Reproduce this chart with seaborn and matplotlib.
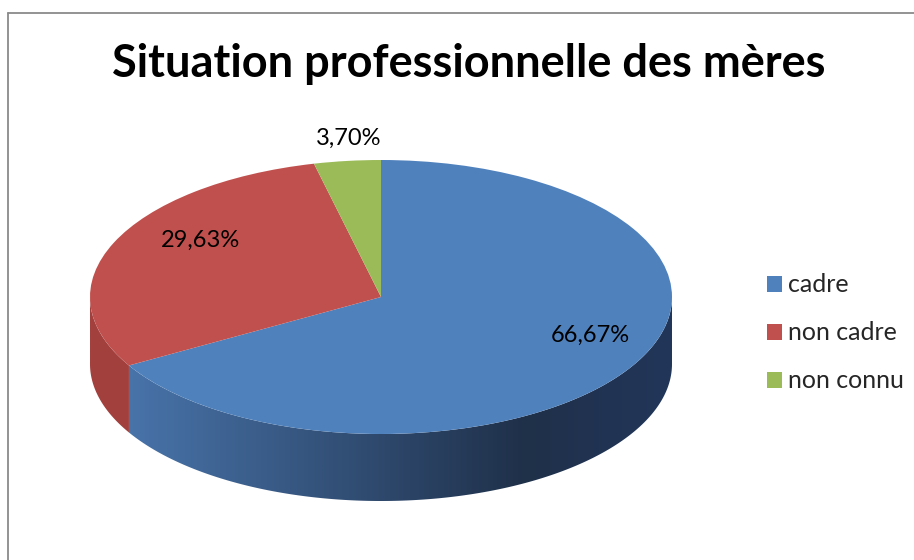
import numpy as np
import matplotlib
matplotlib.use("Agg")
import matplotlib.pyplot as plt
import seaborn as sns
from matplotlib.transforms import Affine2D
from matplotlib.patches import Polygon
from matplotlib.colors import LinearSegmentedColormap

# ---- data ----
categories = ["cadre", "non cadre", "non connu"]
values = [66.67, 29.63, 3.70]
title = "Situation professionnelle des mères"

colors = ["#4F81BD", "#C0504D", "#9BBB59"]
side_cmaps = [
    LinearSegmentedColormap.from_list("b", [(0, "#4c7ab3"), (0.75, "#1f3049"), (1, "#22365a")]),
    LinearSegmentedColormap.from_list("r", [(0, "#a3413e"), (1, "#8a3634")]),
    LinearSegmentedColormap.from_list("g", [(0, "#819f48"), (1, "#6b853c")]),
]

sns.set_theme(style="white")
plt.rcParams["font.family"] = ["Lato", "DejaVu Sans"]

W, H = 914, 560
fig = plt.figure(figsize=(W / 100, H / 100), dpi=100)
ax = fig.add_axes([0, 0, 1, 1])

# geometry (pixel space, y up)
cx, cy = 381, 263
rx, ry = 291, 137
depth = 67

wedges, _ = ax.pie(values, colors=colors, startangle=90, counterclock=False,
                   wedgeprops=dict(linewidth=0), radius=1, center=(0, 0))
tr = Affine2D().scale(rx, ry).translate(cx, cy) + ax.transData
for w in wedges:
    w.set_transform(tr)
    w.set_zorder(3)

ax.set_aspect("auto")
ax.axis("off")

# side walls from wedge angles, filled with a horizontal gradient
grad = np.linspace(0, 1, 512).reshape(1, -1)
for i, w in enumerate(wedges):
    a1, a2 = w.theta1, w.theta2
    for shift in (-360, 0, 360):
        lo = max(a1 + shift, 180)
        hi = min(a2 + shift, 360)
        if hi > lo:
            th = np.radians(np.linspace(lo, hi, 400))
            xs = cx + rx * np.cos(th)
            ys = cy + ry * np.sin(th)
            pts = np.concatenate([np.column_stack([xs, ys]),
                                  np.column_stack([xs[::-1], ys[::-1] - depth])])
            poly = Polygon(pts, closed=True, facecolor="none", edgecolor="none")
            ax.add_patch(poly)
            im = ax.imshow(grad, cmap=side_cmaps[i], aspect="auto",
                           extent=(cx - rx, cx + rx, cy - ry - depth, cy),
                           origin="lower", zorder=2, interpolation="bilinear")
            im.set_clip_path(poly)

ax.set_xlim(0, W)
ax.set_ylim(0, H)

# value labels
label_pos = [(590, 335), (200, 240), (349, 138)]
for v, (px, py) in zip(values, label_pos):
    ax.text(px, H - py, f"{v:.2f}%".replace(".", ","), ha="center", va="center",
            fontsize=17, color="black", zorder=5)

# title
fig.text(469 / W, (H - 77) / H, title, ha="center", va="baseline",
         fontsize=32.5, fontweight="bold", color="black")

# legend
leg = ax.legend(wedges, categories, loc="center left",
                bbox_to_anchor=(767 / W, (H - 333) / H), bbox_transform=fig.transFigure,
                frameon=False, fontsize=18, handlelength=0.6, handleheight=0.6,
                handletextpad=0.25, labelspacing=1.0, borderpad=0, borderaxespad=0)

# border
ax.plot([8, 8], [0, H - 13], color="#8a8a8a", lw=1.3, zorder=6, clip_on=False)
ax.plot([8, W], [H - 13, H - 13], color="#8a8a8a", lw=1.3, zorder=6, clip_on=False)

fig.savefig("out.png", dpi=100)
